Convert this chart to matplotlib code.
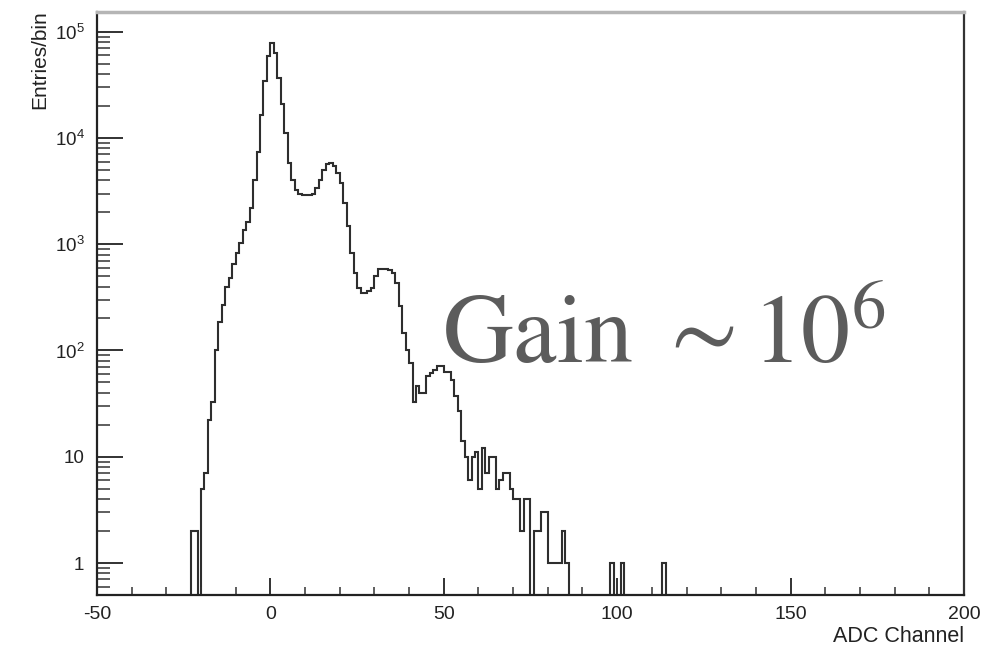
import numpy as np
import matplotlib.pyplot as plt
from matplotlib.ticker import FixedLocator, FixedFormatter, NullFormatter

plt.rcParams['axes.unicode_minus'] = False
plt.rcParams['mathtext.fontset'] = 'stix'

# ADC spectrum, 1 channel per bin, range -50..200
first_bin = -23
counts = [2, 2, 0, 5, 7, 22, 33, 100, 187, 270,          # -23 .. -14
          400, 480, 645, 830, 1030, 1370, 1630, 2200, 4000, 7400,  # -13 .. -4
          16500, 34000, 58500, 78000, 63000, 36600, 21000, 11200, 5800, 4050,  # -3 .. 6
          3240, 2950, 2900, 2880, 2900, 3000, 3360, 4050, 5000, 5700,  # 7 .. 16
          5800, 5500, 4660, 3740, 2440, 1470, 830, 535, 385, 350,  # 17 .. 26
          345, 360, 390, 500, 580, 590, 590, 570, 535, 430,  # 27 .. 36
          260, 146, 102, 76, 33, 46, 40, 40, 57, 62,  # 37 .. 46
          66, 71, 71, 63, 63, 53, 37, 27, 14, 10,  # 47 .. 56
          6, 10, 11, 5, 12, 7, 10, 10, 5, 6,  # 57 .. 66
          7, 7, 5, 4, 4, 2, 4, 4, 0, 2,  # 67 .. 76
          2, 3, 3, 1, 1, 1, 1, 2, 1, 0]  # 77 .. 86
tail_bins = [98, 101, 113]
tail_counts = [1, 1, 1]

edges = np.arange(-50, 201)
hist = np.zeros(len(edges) - 1)
i0 = first_bin + 50
hist[i0:i0 + len(counts)] = counts
for b, c in zip(tail_bins, tail_counts):
    hist[b + 50] = c

# empty bins drop down to the axis on the log scale
draw = np.where(hist > 0, hist, 1e-3)

fig = plt.figure(figsize=(10.06, 6.51), dpi=100)
ax = fig.add_axes([0.0964, 0.086, 0.8618, 0.8955])

ax.stairs(draw, edges, color='#2e2e2e', lw=1.5, baseline=None)

ax.set_yscale('log')
ax.set_xlim(-50, 200)
ax.set_ylim(0.5, 1.53e5)

sans = 'Liberation Sans'
# y ticks: decades plus 2..9 minors
ymaj = [1, 10, 1e2, 1e3, 1e4, 1e5]
ylab = ['1', '10', r'$\mathregular{10^{2}}$', r'$\mathregular{10^{3}}$',
        r'$\mathregular{10^{4}}$', r'$\mathregular{10^{5}}$']
ymin_ticks = [m * 10.0**d for d in range(-1, 5) for m in range(2, 10)]
ymin_ticks = [t for t in ymin_ticks if 0.5 <= t <= 1.5e5]
ax.yaxis.set_major_locator(FixedLocator(ymaj))
ax.yaxis.set_major_formatter(FixedFormatter(ylab))
ax.yaxis.set_minor_locator(FixedLocator(ymin_ticks))
ax.yaxis.set_minor_formatter(NullFormatter())

ax.xaxis.set_major_locator(FixedLocator([-50, 0, 50, 100, 150, 200]))
ax.xaxis.set_minor_locator(FixedLocator(np.arange(-40, 200, 10)))

ax.tick_params(axis='y', which='major', direction='in', length=19, width=1.3,
               color='#222222', pad=9, labelsize=13.5)
ax.tick_params(axis='y', which='minor', direction='in', length=9.5, width=1.1,
               color='#333333')
ax.tick_params(axis='x', which='major', direction='in', length=12, width=1.3,
               color='#222222', pad=8, labelsize=14)
ax.tick_params(axis='x', which='minor', direction='in', length=6, width=1.1,
               color='#333333')
for lab in ax.get_xticklabels() + ax.get_yticklabels():
    lab.set_fontfamily(sans)
    lab.set_color('#222222')

for side in ['left', 'bottom']:
    ax.spines[side].set_color('#222222')
    ax.spines[side].set_linewidth(1.6)
ax.spines['top'].set_color('#b5b5b5')
ax.spines['top'].set_linewidth(2.5)
ax.spines['right'].set_color('#333333')
ax.spines['right'].set_linewidth(1.6)

fig.text(0.958, 0.022, 'ADC Channel', ha='right', va='center',
         fontsize=15.5, family=sans, color='#222222')
fig.text(0.040, 0.985, 'Entries/bin', ha='center', va='top', rotation=90,
         fontsize=15, family=sans, color='#222222')

fig.text(0.4394, 0.4420, r'Gain $\sim$10$^{6}$', ha='left', va='baseline',
         fontsize=70.5, family='STIXGeneral', color='#5c5c5c')

fig.savefig('out.png', dpi=100)
